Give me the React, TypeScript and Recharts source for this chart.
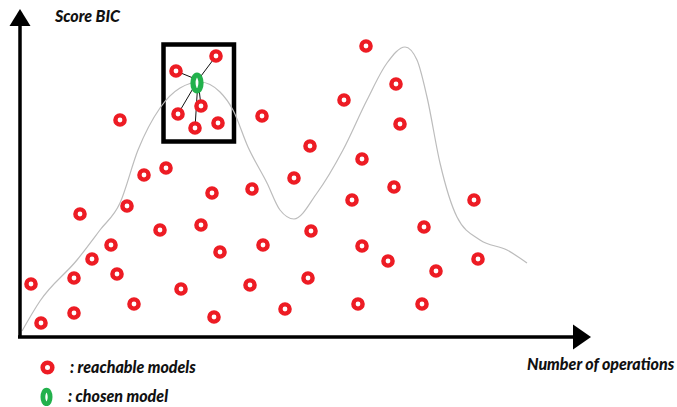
import React from "react";
import {
  ComposedChart,
  Line,
  Scatter,
  XAxis,
  YAxis,
  ReferenceArea,
  ReferenceLine,
  ReferenceDot,
} from "recharts";

// reachable models: x = number of operations, y = BIC score
const reachableOps = [
  346, 196, 156, 376, 324, 181, 158, 100, 242, 198, 175, 380, 290, 342, 146, 124, 274,
  374, 232, 192, 332, 454, 107, 60, 181, 404, 140, 291, 91, 243, 342, 200, 72, 458, 368,
  416, 97, 288, 54, 11, 230, 161, 114, 338, 402, 265, 54, 194, 21,
];
const reachableScores = [
  291, 281, 266, 253, 237, 231, 223, 217, 221, 214, 209, 213, 191, 178, 169, 162, 159,
  150, 148, 144, 137, 137, 131, 123, 112, 110, 107, 106, 92, 92, 91, 85, 78, 78, 76,
  66, 63, 59, 59, 53, 52, 48, 33, 33, 33, 28, 24, 20, 14,
];

// the chosen model and the neighbours it was compared against
const chosenModel = { x: 177, y: 254 };
const linkOrigin = { x: 178, y: 257 };
const neighbourOps = [196, 156, 181, 158, 175];
const neighbourScores = [281, 266, 231, 223, 209];
const zoomBox = { x1: 143.5, x2: 214, y1: 195.5, y2: 292.5 };

// score envelope curve
const curveOps = [2, 20, 57, 80, 100, 118, 140, 160, 180, 200, 213, 228, 247, 260, 274, 297, 323, 347, 367, 385, 397, 407, 420, 437, 460, 487, 507];
const curveScores = [6, 36, 77, 107, 134, 187, 229, 249, 255, 245, 227, 190, 154, 127, 118, 144, 187, 237, 274, 290, 277, 240, 174, 120, 97, 87, 74];

const reachable = reachableOps.map((x, i) => ({ x, y: reachableScores[i] }));
const curve = curveOps.map((x, i) => ({ x, y: curveScores[i] }));

const RED = "#ed1c24";
const GREEN = "#22b14c";
const labelFont: React.CSSProperties = {
  position: "absolute",
  fontFamily: "Lato, 'Open Sans', sans-serif",
  fontWeight: 900,
  fontStyle: "italic",
  fontSize: 16,
  color: "#111",
  whiteSpace: "nowrap",
  lineHeight: 1,
};

const Ring = (props: any) => (
  <circle cx={props.cx} cy={props.cy} r={4.6} fill="#fff" stroke={RED} strokeWidth={4.4} />
);

const UpArrow = (props: any) => (
  <polygon
    points={`${props.cx},${props.cy} ${props.cx - 10.5},${props.cy + 17} ${props.cx + 10.5},${props.cy + 17}`}
    fill="#000"
  />
);

const RightArrow = (props: any) => (
  <polygon
    points={`${props.cx},${props.cy} ${props.cx - 18},${props.cy - 12.5} ${props.cx - 18},${props.cy + 12.5}`}
    fill="#000"
  />
);

const ChosenEllipse = (props: any) => (
  <ellipse cx={props.cx} cy={props.cy} rx={4} ry={8} fill="#fff" stroke={GREEN} strokeWidth={5.2} />
);

export default function App() {
  return (
    <div style={{ position: "absolute", left: 0, top: 0, width: 677, height: 407, background: "#fff" }}>
      <ComposedChart width={677} height={407} margin={{ top: 0, right: 0, bottom: 0, left: 0 }}>
        <XAxis type="number" dataKey="x" domain={[-20, 657]} hide allowDataOverflow />
        <YAxis type="number" dataKey="y" domain={[-70, 337]} hide allowDataOverflow />
        <Line
          data={curve}
          dataKey="y"
          type="monotone"
          stroke="#bcbcbc"
          strokeWidth={1.2}
          dot={false}
          activeDot={false}
          isAnimationActive={false}
        />
        <ReferenceArea
          x1={zoomBox.x1}
          x2={zoomBox.x2}
          y1={zoomBox.y1}
          y2={zoomBox.y2}
          fill="none"
          fillOpacity={0}
          stroke="#000"
          strokeWidth={4.5}
          ifOverflow="visible"
        />
        <ReferenceLine segment={[{ x: 0, y: -1 }, { x: 0, y: 312 }]} stroke="#000" strokeWidth={3.5} ifOverflow="visible" />
        <ReferenceLine segment={[{ x: -2, y: 0 }, { x: 554, y: 0 }]} stroke="#000" strokeWidth={3.5} ifOverflow="visible" />
        <ReferenceDot x={0} y={328} shape={UpArrow} ifOverflow="visible" />
        <ReferenceDot x={571} y={0} shape={RightArrow} ifOverflow="visible" />
        <Scatter data={reachable} dataKey="y" shape={Ring} isAnimationActive={false} />
        <ReferenceDot x={chosenModel.x} y={chosenModel.y} shape={ChosenEllipse} ifOverflow="visible" />
        {neighbourOps.map((x, i) => (
          <ReferenceLine
            key={i}
            segment={[linkOrigin, { x, y: neighbourScores[i] }]}
            stroke="#111"
            strokeWidth={1}
            ifOverflow="visible"
          />
        ))}
      </ComposedChart>

      <div style={{ ...labelFont, left: 55, top: 8 }}>Score BIC</div>
      <div style={{ ...labelFont, left: 527, top: 356 }}>Number of operations</div>

      <svg style={{ position: "absolute", left: 36, top: 358 }} width={24} height={48}>
        <circle cx={11.5} cy={9.5} r={4.8} fill="#fff" stroke={RED} strokeWidth={4.6} />
        <ellipse cx={10.5} cy={39} rx={3.6} ry={6.8} fill="#fff" stroke={GREEN} strokeWidth={4.8} />
      </svg>
      <div style={{ ...labelFont, left: 70, top: 359 }}>: reachable models</div>
      <div style={{ ...labelFont, left: 68, top: 388 }}>: chosen model</div>
    </div>
  );
}
